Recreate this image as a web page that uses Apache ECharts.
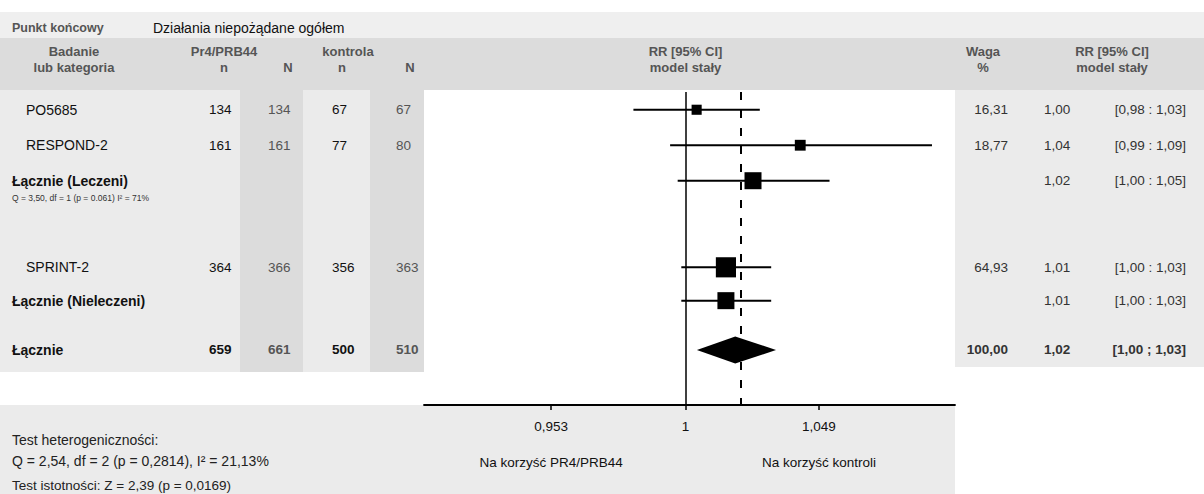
<!DOCTYPE html>
<html><head><meta charset="utf-8">
<script src="https://cdn.jsdelivr.net/npm/echarts@6/dist/echarts.min.js"></script>
<style>html,body{margin:0;padding:0;background:#fff}#c{width:1204px;height:494px}</style>
</head><body><div id="c"></div>
<script>
// ---------------- data ----------------
const endpointLabel = 'Punkt końcowy';
const endpointName = 'Działania niepożądane ogółem';
const studies = ['PO5685', 'RESPOND-2', 'Łącznie (Leczeni)', 'SPRINT-2', 'Łącznie (Nieleczeni)', 'Łącznie'];
const rowKind = ['study', 'study', 'subtotal', 'study', 'subtotal', 'total'];
const txEvents = [134, 161, null, 364, null, 659];
const txTotal = [134, 161, null, 366, null, 661];
const ctlEvents = [67, 77, null, 356, null, 500];
const ctlTotal = [67, 80, null, 363, null, 510];
const weights = [16.31, 18.77, null, 64.93, null, 100.00];
const rrText = ['1,00', '1,04', '1,02', '1,01', '1,01', '1,02'];
const ciText = ['[0,98 : 1,03]', '[0,99 : 1,09]', '[1,00 : 1,05]', '[1,00 : 1,03]', '[1,00 : 1,03]', '[1,00 ; 1,03]'];
const rr = [1.004, 1.042, 1.0245, 1.0146, 1.0146, 1.018];
const ciLow = [0.9815, 0.9945, 0.9972, 0.9985, 0.9985, 1.0041];
const ciHigh = [1.027, 1.0924, 1.053, 1.0312, 1.0312, 1.033];
const subgroupHet = 'Q = 3,50, df = 1 (p = 0.061) I² = 71%';
const tickValues = [0.953, 1, 1.049];
const tickLabels = ['0,953', '1', '1,049'];
const favourLabels = ['Na korzyść PR4/PRB44', 'Na korzyść kontroli'];
const hetTitle = 'Test heterogeniczności:';
const hetText = 'Q = 2,54, df = 2 (p = 0,2814), I² = 21,13%';
const sigText = 'Test istotności: Z = 2,39 (p = 0,0169)';

// ---------------- layout ----------------
const FONT = '"Liberation Sans", Arial, Helvetica, sans-serif';
const GRID = { left: 424, top: 92, width: 531, height: 313 };
const LOG_BASE = 1.049;
const X_MIN = Math.pow(LOG_BASE, -1.96), X_MAX = Math.pow(LOG_BASE, 2.02);
const Y_MIN = -0.5, Y_MAX = 8.32;
const rowPos = [0, 1, 2, 4.44, 5.38, 6.77];
const KIND = { study: 0, subtotal: 1, total: 2 };

const chart = echarts.init(document.getElementById('c'), null, { renderer: 'svg' });

const forestData = studies.map((s, i) => [ciLow[i], ciHigh[i], rr[i], rowPos[i], KIND[rowKind[i]], weights[i] == null ? 0 : weights[i]]);

function renderItem(params, api) {
  const y = api.value(3);
  const pLo = api.coord([api.value(0), y]);
  const pHi = api.coord([api.value(1), y]);
  const pC = api.coord([api.value(2), y]);
  const kind = api.value(4);
  const children = [];
  if (kind === 2) {
    const h = 13.5;
    children.push({ type: 'polygon', shape: { points: [[pLo[0], pC[1]], [pC[0], pC[1] - h], [pHi[0], pC[1]], [pC[0], pC[1] + h]] }, style: { fill: '#000' } });
  } else {
    children.push({ type: 'line', shape: { x1: pLo[0], y1: pLo[1], x2: pHi[0], y2: pHi[1] }, style: { stroke: '#000', lineWidth: 2 } });
    const s = kind === 0 ? 2.5 * Math.sqrt(api.value(5)) : 17;
    children.push({ type: 'rect', shape: { x: pC[0] - s / 2, y: pC[1] - s / 2, width: s, height: s }, style: { fill: '#000' } });
  }
  return { type: 'group', children };
}

function tickFmt(v) {
  let best = 0;
  tickValues.forEach((t, i) => { if (Math.abs(t - v) < Math.abs(tickValues[best] - v)) best = i; });
  return tickLabels[best];
}

chart.setOption({
  animation: false,
  textStyle: { fontFamily: FONT },
  grid: GRID,
  xAxis: {
    type: 'log', logBase: LOG_BASE, min: X_MIN, max: X_MAX,
    axisLine: { onZero: false, lineStyle: { color: '#000', width: 1.8 } },
    axisTick: { show: true, length: 5, customValues: tickValues, lineStyle: { color: '#000', width: 1.5 } },
    axisLabel: { customValues: tickValues, formatter: tickFmt, color: '#111', fontSize: 13.5, margin: 14, fontFamily: FONT },
    splitLine: { show: false }, minorTick: { show: false }
  },
  yAxis: { type: 'value', inverse: true, min: Y_MIN, max: Y_MAX, show: false },
  series: [{
    type: 'custom', renderItem, data: forestData, encode: { x: [0, 1, 2], y: 3 }, z: 5,
    markLine: {
      silent: true, symbol: 'none', label: { show: false },
      data: [
        { xAxis: 1, lineStyle: { color: '#000', width: 1.5, type: 'solid' } },
        { xAxis: rr[5], lineStyle: { color: '#000', width: 2, type: [8, 10] } }
      ]
    }
  }]
});

// ---------------- table (text) ----------------
const rowY = rowPos.map(p => chart.convertToPixel({ yAxisIndex: 0 }, p));
const xOf = v => chart.convertToPixel({ xAxisIndex: 0 }, v);
const G = [];
function rect(x, y, w, h, fill) { G.push({ type: 'rect', z: -10, shape: { x, y, width: w, height: h }, style: { fill } }); }
function txt(text, x, y, o) {
  o = o || {};
  G.push({ type: 'text', z: 10, x, y, style: { text, fill: o.fill || '#111', fontSize: o.size || 13.5, fontWeight: o.bold ? 'bold' : 'normal', fontFamily: FONT, align: o.align || 'left', verticalAlign: 'middle' } });
}
// backgrounds
rect(0, 12, 1204, 26, '#efefef');
rect(0, 38, 1204, 52, '#dcdcdc');
rect(0, 90, 424, 282, '#ebebeb');
rect(240, 90, 63, 282, '#dcdcdc');
rect(370, 90, 54, 282, '#dcdcdc');
rect(955, 90, 249, 277, '#ebebeb');
rect(0, 405, 955, 89, '#ebebeb');

const HEAD = '#555';
txt(endpointLabel, 12, 28, { fill: HEAD, bold: true, size: 12.5 });
txt(endpointName, 153, 28, { fill: '#111', size: 14 });
txt('Badanie', 74, 51, { fill: HEAD, bold: true, align: 'center', size: 13 });
txt('lub kategoria', 74, 67, { fill: HEAD, bold: true, align: 'center', size: 13 });
txt('Pr4/PRB44', 224, 51, { fill: HEAD, bold: true, align: 'center', size: 13 });
txt('kontrola', 348, 51, { fill: HEAD, bold: true, align: 'center', size: 13 });
txt('n', 224, 67, { fill: HEAD, bold: true, align: 'center', size: 13 });
txt('N', 288, 67, { fill: HEAD, bold: true, align: 'center', size: 13 });
txt('n', 342, 67, { fill: HEAD, bold: true, align: 'center', size: 13 });
txt('N', 410, 67, { fill: HEAD, bold: true, align: 'center', size: 13 });
const x1 = xOf(1);
txt('RR [95% CI]', x1, 51, { fill: HEAD, bold: true, align: 'center', size: 13 });
txt('model stały', x1, 67, { fill: HEAD, bold: true, align: 'center', size: 13 });
txt('Waga', 983, 51, { fill: HEAD, bold: true, align: 'center', size: 13 });
txt('%', 983, 67, { fill: HEAD, bold: true, align: 'center', size: 13 });
txt('RR [95% CI]', 1112, 51, { fill: HEAD, bold: true, align: 'center', size: 13 });
txt('model stały', 1112, 67, { fill: HEAD, bold: true, align: 'center', size: 13 });

studies.forEach((name, i) => {
  const y = rowY[i];
  const isStudy = rowKind[i] === 'study';
  const isTotal = rowKind[i] === 'total';
  txt(name, isStudy ? 26 : 12, y, { bold: !isStudy, size: isStudy ? 14 : 14 });
  if (txEvents[i] != null) {
    txt(String(txEvents[i]), 209, y, { bold: isTotal });
    txt(String(txTotal[i]), 268, y, { bold: isTotal, fill: '#555' });
    txt(String(ctlEvents[i]), 332, y, { bold: isTotal });
    txt(String(ctlTotal[i]), 396, y, { bold: isTotal, fill: '#555' });
  }
  if (weights[i] != null) txt(weights[i].toFixed(2).replace('.', ','), 1008, y, { bold: isTotal, align: 'right', fill: '#333' });
  txt(rrText[i], 1044, y, { bold: isTotal, fill: '#333' });
  txt(ciText[i], 1186, y, { bold: isTotal, align: 'right', fill: '#333' });
});
txt(subgroupHet, 12, rowY[2] + 17, { size: 8.5, fill: '#333' });

// favour labels under ticks
txt(favourLabels[0], xOf(tickValues[0]), 462, { align: 'center', size: 13.5 });
txt(favourLabels[1], xOf(tickValues[2]), 462, { align: 'center', size: 13.5 });

txt(hetTitle, 12, 440, { size: 14, fill: '#222' });
txt(hetText, 12, 461, { size: 14, fill: '#222' });
txt(sigText, 12, 485, { size: 13.5, fill: '#222' });

chart.setOption({ graphic: G });
</script>
</body></html>
